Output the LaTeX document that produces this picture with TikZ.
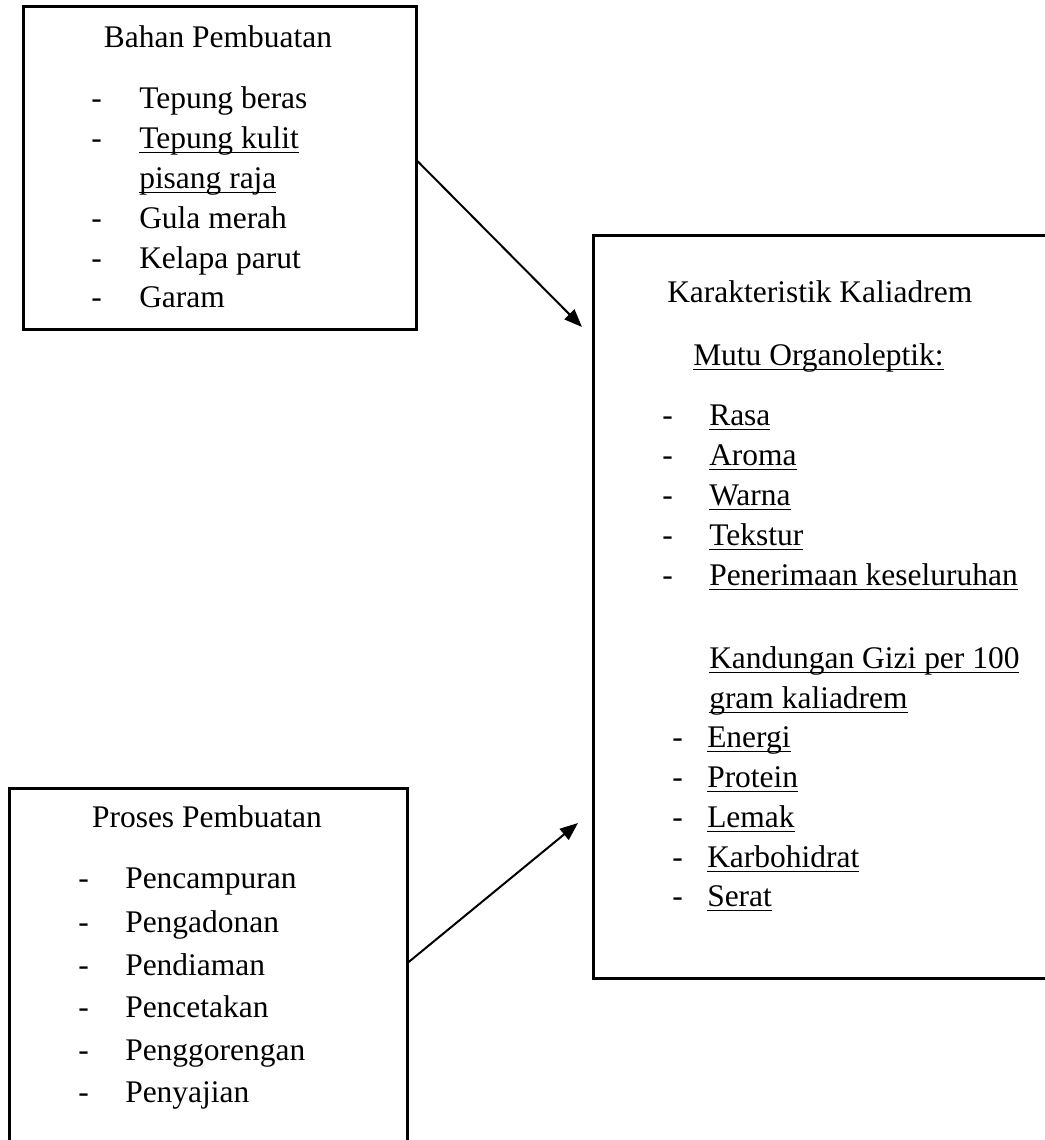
\documentclass[tikz,border=0pt]{standalone}
\usepackage{fontspec}
\setmainfont{Liberation Serif}
\usetikzlibrary{arrows.meta}
\newcommand\ult[1]{\leavevmode\setbox0\hbox{#1}\rlap{\rule[-4pt]{\wd0}{1.2pt}}\box0}
\newcommand\fs{\fontsize{23.6}{28}\selectfont}
\tikzset{
  box/.style={draw, line width=2pt, inner sep=0pt, anchor=north west},
  txt/.style={anchor=base west, inner sep=0pt, font=\fs},
  ttl/.style={anchor=base, inner sep=0pt, font=\fs},
  arr/.style={line width=1.5pt, -{Triangle[length=13.5pt,width=10.5pt]}},
}
\begin{document}
\begin{tikzpicture}[x=0.75pt,y=-0.75pt]
\useasboundingbox (0,0) rectangle (1045,1140);
\clip (0,0) rectangle (1045,1140);
% boxes
\node[box, minimum width=294.75pt, minimum height=242.25pt] (bahan) at (22,5) {};
\node[box, minimum width=351pt, minimum height=557.25pt] (kar) at (592,234) {};
\node[box, minimum width=298.5pt, minimum height=279.75pt] (proses) at (8,787) {};
% Bahan Pembuatan
\node[ttl] (bt) at (218,47) {Bahan Pembuatan};
\node[txt] (bd1) at (91,108) {-};
\node[txt] (bd2) at (91,148) {-};
\node[txt] (bd3) at (91,228) {-};
\node[txt] (bd4) at (91,268) {-};
\node[txt] (bd5) at (91,307) {-};
\node[txt] (b1) at (139,108) {Tepung beras};
\node[txt] (b2) at (139,148) {\ult{Tepung kulit}};
\node[txt] (b2b) at (139,188) {\ult{pisang raja}};
\node[txt] (b3) at (139,228) {Gula merah};
\node[txt] (b4) at (139,268) {Kelapa parut};
\node[txt] (b5) at (139,307) {Garam};
% Proses Pembuatan
\node[ttl] (pt) at (207,827) {Proses Pembuatan};
\node[txt] (pd1) at (78,888) {-};
\node[txt] (pd2) at (78,932) {-};
\node[txt] (pd3) at (78,975) {-};
\node[txt] (pd4) at (78,1017) {-};
\node[txt] (pd5) at (78,1060) {-};
\node[txt] (pd6) at (78,1102) {-};
\node[txt] (p1) at (125,888) {Pencampuran};
\node[txt] (p2) at (125,932) {Pengadonan};
\node[txt] (p3) at (125,975) {Pendiaman};
\node[txt] (p4) at (125,1017) {Pencetakan};
\node[txt] (p5) at (125,1060) {Penggorengan};
\node[txt] (p6) at (125,1102) {Penyajian};
% Karakteristik Kaliadrem
\node[txt] (kt) at (667,302) {Karakteristik Kaliadrem};
\node[txt] (km) at (693,365) {\ult{Mutu Organoleptik:}};
\node[txt] (kd1) at (662,425) {-};
\node[txt] (kd2) at (662,465) {-};
\node[txt] (kd3) at (662,505) {-};
\node[txt] (kd4) at (662,545) {-};
\node[txt] (kd5) at (662,585) {-};
\node[txt] (k1) at (709,425) {\ult{Rasa}};
\node[txt] (k2) at (709,465) {\ult{Aroma}};
\node[txt] (k3) at (709,505) {\ult{Warna}};
\node[txt] (k4) at (709,545) {\ult{Tekstur}};
\node[txt] (k5) at (709,585) {\ult{Penerimaan keseluruhan}};
\node[txt] (kg1) at (709,668) {\ult{Kandungan Gizi per 100}};
\node[txt] (kg2) at (709,708) {\ult{gram kaliadrem}};
\node[txt] (ge1) at (672,747) {-};
\node[txt] (ge2) at (672,787) {-};
\node[txt] (ge3) at (672,827) {-};
\node[txt] (ge4) at (672,867) {-};
\node[txt] (ge5) at (672,906) {-};
\node[txt] (g1) at (707,747) {\ult{Energi}};
\node[txt] (g2) at (707,787) {\ult{Protein}};
\node[txt] (g3) at (707,827) {\ult{Lemak}};
\node[txt] (g4) at (707,867) {\ult{Karbohidrat}};
\node[txt] (g5) at (707,906) {\ult{Serat}};
% arrows
\draw[arr] ([yshift=4.9pt]bahan.east) -- ([xshift=-7.5pt,yshift=-69.75pt]kar.north west);
\draw[arr] ([yshift=-131.25pt]proses.north east) -- ([xshift=-10.5pt,yshift=-441.75pt]kar.north west);
\end{tikzpicture}
\end{document}
